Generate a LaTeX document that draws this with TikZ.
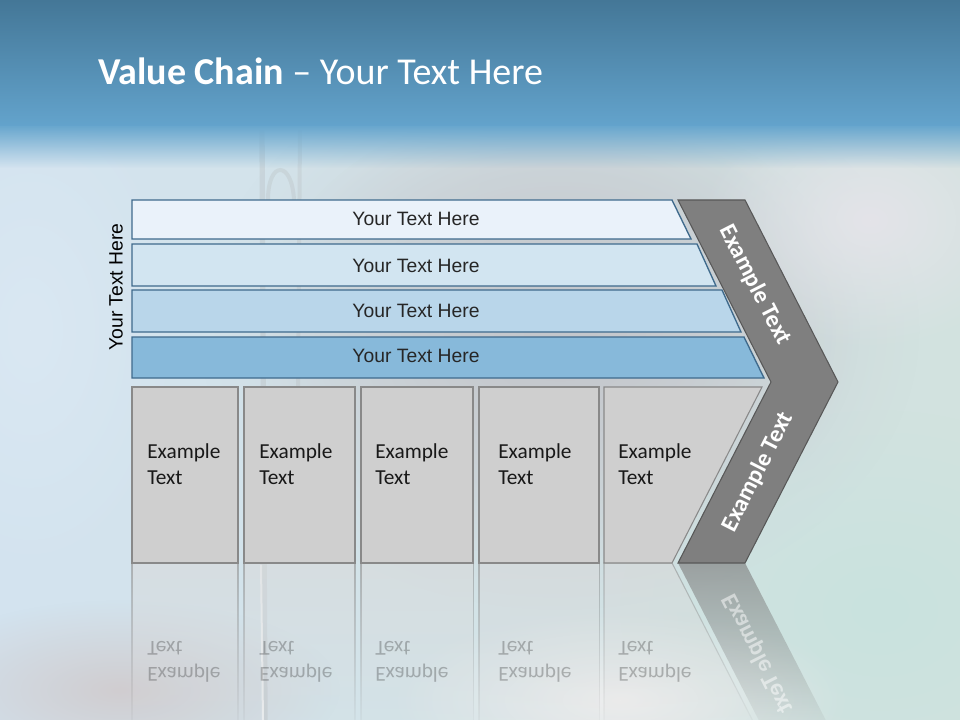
\documentclass[tikz,border=0pt]{standalone}
\usepackage{fontspec}
\setmainfont{Carlito}
\newfontfamily\barfont{Liberation Sans}
\usetikzlibrary{fadings}
\tikzfading[name=reflfade, top color=transparent!45, bottom color=transparent!100]
\tikzfading[name=chevfade, top color=transparent!35, bottom color=transparent!100]
\tikzfading[name=topfade, top color=transparent!0, bottom color=transparent!100]
\tikzfading[name=blob, inner color=transparent!0, outer color=transparent!100]
\definecolor{bandtop}{HTML}{447797}
\definecolor{bandbot}{HTML}{63A3CC}
\definecolor{bandfade}{HTML}{69A7CE}
\definecolor{bgL}{HTML}{D3E3EF}
\definecolor{bgR}{HTML}{D2E2DF}
\definecolor{blobA}{HTML}{CACDD2}
\definecolor{blobB}{HTML}{C4C7CC}
\definecolor{blobC}{HTML}{E4E4E9}
\definecolor{blobD}{HTML}{C9E2DE}
\definecolor{blobE}{HTML}{EEEEEE}
\definecolor{blobF}{HTML}{DAE8F3}
\definecolor{blobG}{HTML}{D0CDD0}
\definecolor{barA}{HTML}{EAF2FA}
\definecolor{barB}{HTML}{D2E5F1}
\definecolor{barC}{HTML}{B9D6EA}
\definecolor{barD}{HTML}{87B9DA}
\definecolor{barline}{HTML}{3F6A8C}
\definecolor{boxfill}{HTML}{CFCFCF}
\definecolor{boxline}{HTML}{898989}
\definecolor{chevfill}{HTML}{7F7F7F}
\definecolor{chevline}{HTML}{585858}
\definecolor{bartextc}{HTML}{262626}
\begin{document}
\begin{tikzpicture}[x=0.75pt,y=-0.75pt,
  barshape/.style={draw=barline, line width=1pt, line join=miter},
  boxshape/.style={draw=boxline, fill=boxfill, line width=0.8pt},
  chevshape/.style={draw=chevline, fill=chevfill, line width=0.8pt, line join=miter},
  bartext/.style={font=\barfont\fontsize{14.5}{17}\selectfont, text=bartextc, inner sep=0pt},
  boxtext/.style={anchor=west, align=left, font=\fontsize{16}{19.5}\selectfont, text=black!90, inner sep=0pt},
  chevtext/.style={font=\bfseries\fontsize{18}{21}\selectfont, text=white, inner sep=0pt},
  reflbox/.style={draw=boxline, fill=boxfill!80!white, line width=0.8pt, path fading=reflfade},
  refltext/.style={text opacity=0.28}
]
\useasboundingbox (0,0) rectangle (960,720);
% ---------- background ----------
\fill[left color=bgL, right color=bgR] (0,0) rectangle (960,720);
\fill[blobA, path fading=blob] (560,330) ellipse (360 and 280);
\fill[blobB, path fading=blob] (560,330) ellipse (300 and 230);
\fill[blobC, path fading=blob] (870,220) ellipse (170 and 130);
\fill[blobD, path fading=blob] (880,610) ellipse (260 and 200);
\fill[blobE, path fading=blob] (620,700) ellipse (230 and 90);
\fill[blobF, path fading=blob] (30,330) ellipse (160 and 260);
\fill[blobG, path fading=blob] (120,690) ellipse (220 and 90);
% faint bridge tower
\draw[gray!70!white, opacity=0.22, line width=4pt] (262,130) -- (265,720);
\draw[gray!70!white, opacity=0.18, line width=3pt] (300,130) -- (298,400);
\draw[gray!70!white, opacity=0.2, line width=3pt] (268,200) .. controls (268,160) and (292,160) .. (294,200);
\draw[white, opacity=0.6, line width=1.5pt] (261,565) -- (263,720);
% top band
\fill[top color=bandtop, bottom color=bandbot] (0,0) rectangle (960,126);
\fill[bandfade, path fading=topfade] (0,126) rectangle (960,168);
% ---------- title ----------
\node[anchor=base west, inner sep=0pt, text=white, font=\fontsize{28.5}{34}\selectfont] (title) at (98,85)
  {\textbf{Value Chain} – Your Text Here};
% ---------- reflection ----------
\fill[chevfill, path fading=chevfade] (678,563) -- (745,563) -- (838,744) -- (771,744) -- cycle;
\path[reflbox] (132,563) rectangle (238,740);
\path[reflbox] (244,563) rectangle (355,740);
\path[reflbox] (361,563) rectangle (473,740);
\path[reflbox] (479,563) rectangle (599,740);
\path[reflbox] (604,563) -- (672,563) -- (762,739) -- (604,739) -- cycle;
\begin{scope}[shift={(0,1126)}, yscale=-1, transform shape]
  \node[boxtext, refltext] (r1) at (147,464) {Example\\Text};
  \node[boxtext, refltext] (r2) at (259,464) {Example\\Text};
  \node[boxtext, refltext] (r3) at (375,464) {Example\\Text};
  \node[boxtext, refltext] (r4) at (498,464) {Example\\Text};
  \node[boxtext, refltext] (r5) at (618,464) {Example\\Text};
  \node[chevtext, rotate=63, text opacity=0.5] (rc) at (758,472) {Example Text};
\end{scope}
% ---------- bars ----------
\path[barshape, fill=barA] (132,200) -- (672,200) -- (691,239) -- (132,239) -- cycle;
\path[barshape, fill=barB] (132,244) -- (697,244) -- (716,286) -- (132,286) -- cycle;
\path[barshape, fill=barC] (132,290) -- (722,290) -- (741,332) -- (132,332) -- cycle;
\path[barshape, fill=barD] (132,337) -- (744,337) -- (764,378) -- (132,378) -- cycle;
\node[bartext] (b1) at (416,219) {Your Text Here};
\node[bartext] (b2) at (416,266) {Your Text Here};
\node[bartext] (b3) at (416,311) {Your Text Here};
\node[bartext] (b4) at (416,356) {Your Text Here};
\node[bartext, text=black, rotate=90] (side) at (116,287) {Your Text Here};
% ---------- boxes ----------
\path[boxshape] (132,387) rectangle (238,563);
\path[boxshape] (244,387) rectangle (355,563);
\path[boxshape] (361,387) rectangle (473,563);
\path[boxshape] (479,387) rectangle (599,563);
\path[boxshape] (604,387) -- (762,387) -- (672,563) -- (604,563) -- cycle;
\node[boxtext] (e1) at (147,464) {Example\\Text};
\node[boxtext] (e2) at (259,464) {Example\\Text};
\node[boxtext] (e3) at (375,464) {Example\\Text};
\node[boxtext] (e4) at (498,464) {Example\\Text};
\node[boxtext] (e5) at (618,464) {Example\\Text};
% ---------- chevron ----------
\path[chevshape] (678,200) -- (745,200) -- (838,382) -- (745,563) -- (678,563) -- (771,382) -- cycle;
\node[chevtext, rotate=-63] (c1) at (755,285) {Example Text};
\node[chevtext, rotate=63] (c2) at (758,472) {Example Text};
\end{tikzpicture}
\end{document}
